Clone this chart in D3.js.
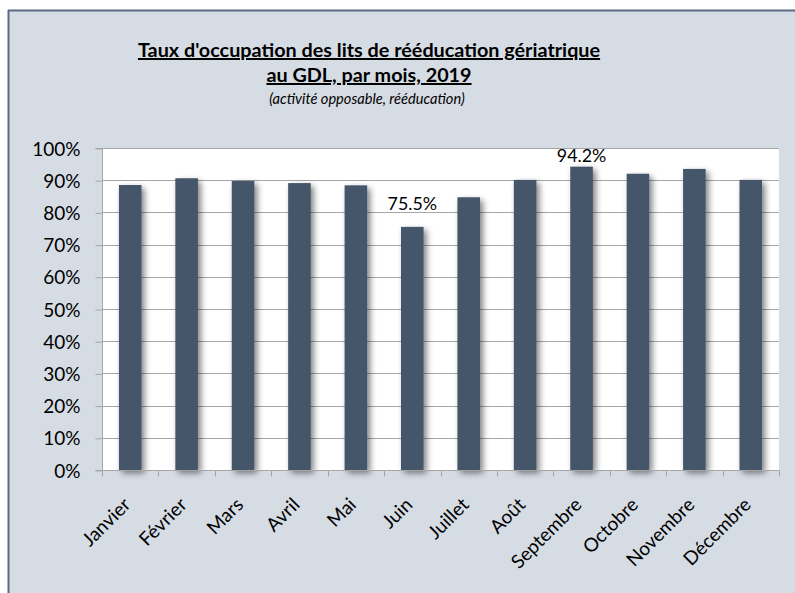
<!DOCTYPE html>
<html>
<head>
<meta charset="utf-8">
<script src="https://cdn.jsdelivr.net/npm/d3@7"></script>
<style>
  html, body { margin: 0; padding: 0; background: #ffffff; }
  svg { display: block; }
  text { font-family: Lato, "Open Sans", sans-serif; fill: #000; }
</style>
</head>
<body>
<svg id="chart" width="795" height="593"></svg>
<script>
const months = ["Janvier", "Février", "Mars", "Avril", "Mai", "Juin", "Juillet", "Août", "Septembre", "Octobre", "Novembre", "Décembre"];
const occupancy = [0.885, 0.906, 0.898, 0.891, 0.884, 0.755, 0.847, 0.901, 0.942, 0.920, 0.935, 0.901];
const labelledMonths = ["Juin", "Septembre"];
const yTicks = [0, 0.1, 0.2, 0.3, 0.4, 0.5, 0.6, 0.7, 0.8, 0.9, 1.0];
const titleLines = ["Taux d'occupation des lits de rééducation gériatrique", "au GDL, par mois, 2019"];
const subtitle = "(activité opposable, rééducation)";

const svg = d3.select("#chart");
const W = 795, H = 593;

// chart background
svg.append("rect").attr("x", 8).attr("y", 10).attr("width", W - 8).attr("height", H - 10).attr("fill", "#d6dce4");
svg.append("line").attr("x1", 8.5).attr("x2", 8.5).attr("y1", 10).attr("y2", H).attr("stroke", "#5b6b86").attr("stroke-width", 2);
svg.append("line").attr("x1", 8).attr("x2", W).attr("y1", 10.5).attr("y2", 10.5).attr("stroke", "#5b6b86").attr("stroke-width", 2);

const defs = svg.append("defs");
const f = defs.append("filter").attr("id", "shadow").attr("x", "-40%").attr("y", "-10%").attr("width", "190%").attr("height", "130%");
f.append("feGaussianBlur").attr("in", "SourceAlpha").attr("stdDeviation", 3).attr("result", "b");
f.append("feOffset").attr("in", "b").attr("dx", 2.5).attr("dy", 2.5).attr("result", "o");
f.append("feComponentTransfer").attr("in", "o").attr("result", "o2")
  .append("feFuncA").attr("type", "linear").attr("slope", 0.5);
const m = f.append("feMerge");
m.append("feMergeNode").attr("in", "o2");
m.append("feMergeNode").attr("in", "SourceGraphic");

// titles
const title = svg.append("g");
titleLines.forEach((t, i) => {
  title.append("text").attr("x", 369).attr("y", 57 + i * 25)
    .attr("text-anchor", "middle").attr("font-size", 19.8).attr("font-weight", "bold")
    .attr("text-decoration", "underline").text(t);
});
title.append("text").attr("x", 367).attr("y", 104).attr("text-anchor", "middle")
  .attr("font-size", 14.6).attr("font-style", "italic").text(subtitle);

const pLeft = 102, pRight = 779, pTop = 148, pBottom = 470;
const x = d3.scaleBand().domain(months).range([pLeft, pRight]).paddingInner(0.6).paddingOuter(0.3);
const y = d3.scaleLinear().domain([0, 1]).range([pBottom, pTop]);

// plot area
svg.append("rect").attr("x", pLeft).attr("y", pTop).attr("width", pRight - pLeft).attr("height", pBottom - pTop).attr("fill", "#ffffff");

// gridlines
svg.append("g").selectAll("line").data(yTicks.filter(d => d > 0)).join("line")
  .attr("x1", pLeft).attr("x2", pRight)
  .attr("y1", d => Math.round(y(d)) + 0.5).attr("y2", d => Math.round(y(d)) + 0.5)
  .attr("stroke", "#a6a6a6").attr("stroke-width", 1);

// bars
svg.append("g").selectAll("rect").data(months).join("rect")
  .attr("x", d => x(d)).attr("width", x.bandwidth())
  .attr("y", (d, i) => y(occupancy[i])).attr("height", (d, i) => y(0) - y(occupancy[i]))
  .attr("fill", "#44546a").attr("filter", "url(#shadow)");

// y axis
const yAxis = d3.axisLeft(y).tickValues(yTicks).tickFormat(d3.format(".0%")).tickSize(7).tickPadding(15);
const gy = svg.append("g").attr("transform", `translate(${pLeft + 0.5},0.5)`).call(yAxis);
gy.select(".domain").attr("stroke", "#a6a6a6").attr("d", `M-7,${pTop}H0V${pBottom}H-7`);
gy.selectAll(".tick line").attr("stroke", "#a6a6a6");
gy.selectAll(".tick text").attr("font-size", 19).attr("font-family", "Lato, sans-serif").attr("fill", "#000").attr("dy", "0.35em");

// x axis with boundary ticks
const gx = svg.append("g").attr("transform", `translate(0,${pBottom + 0.5})`);
gx.append("line").attr("x1", pLeft).attr("x2", pRight).attr("stroke", "#a6a6a6");
const step = x.step();
const bounds = d3.range(months.length + 1).map(i => pLeft + x.paddingOuter() * step - x.paddingInner() * step / 2 + i * step);
gx.selectAll("line.tk").data(bounds).join("line").attr("class", "tk")
  .attr("x1", d => Math.round(d) + 0.5).attr("x2", d => Math.round(d) + 0.5).attr("y1", 0).attr("y2", 6)
  .attr("stroke", "#a6a6a6");
gx.selectAll("text").data(months).join("text")
  .attr("transform", d => `translate(${x(d) + x.bandwidth() / 2 - 8},${26}) rotate(-45)`)
  .attr("text-anchor", "end").attr("dy", "0.7em").attr("font-size", 19).text(d => d);

// data labels (Excel placed the Juin label higher than the Septembre label)
const labelGap = { "Juin": 17, "Septembre": 5 };
svg.append("g").selectAll("text").data(months.filter(d => labelledMonths.includes(d))).join("text")
  .attr("x", d => x(d) + x.bandwidth() / 2)
  .attr("y", d => y(occupancy[months.indexOf(d)]) - labelGap[d])
  .attr("text-anchor", "middle").attr("font-size", 17.8)
  .text(d => d3.format(".1%")(occupancy[months.indexOf(d)]));
</script>
</body>
</html>
